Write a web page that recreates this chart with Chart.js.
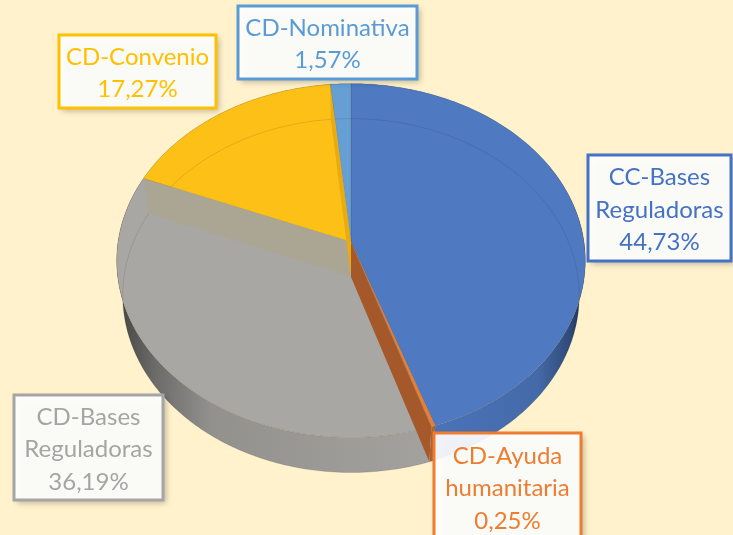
<!DOCTYPE html>
<html>
<head>
<meta charset="utf-8">
<script src="https://cdn.jsdelivr.net/npm/chart.js@4"></script>
<style>
  html, body { margin: 0; padding: 0; background: #fff2cc; overflow: hidden; }
  canvas { display: block; }
</style>
</head>
<body>
<canvas id="chartPie" width="733" height="535"></canvas>
<script>
// Chart data
const categories = ['CC-Bases Reguladoras', 'CD-Ayuda humanitaria', 'CD-Bases Reguladoras', 'CD-Convenio', 'CD-Nominativa'];
const shares = [44.73, 0.25, 36.19, 17.27, 1.57];

// Slice styles
const topColors = ['#4f79c1', '#ed7d31', '#a8a7a3', '#fdc016', '#659fd3'];
const textColors = ['#4472c4', '#ed7d31', '#a5a5a5', '#ffc000', '#5b9bd5'];
const sideStops = [
  [[0.7, '#4a72b8'], [0.9, '#446aa8'], [0.97, '#2f4a78'], [1, '#1c2c4c']],
  [[0, '#b5602a'], [1, '#b5602a']],
  [[0, '#444443'], [0.08, '#6b6b69'], [0.2, '#92918e'], [0.68, '#a3a29e']],
  [[0, '#c99a14'], [1, '#c99a14']],
  [[0, '#507fa9'], [1, '#507fa9']]
];

// Label boxes: left, top, right, bottom
const labelBoxes = [
  [588, 155, 731, 261],
  [434, 433, 581, 545],
  [14, 395, 163, 500],
  [59, 35, 216, 108],
  [238, 6, 417, 79]
];

// Perspective of the tilted disc
const TILT = 0.105;
const DISC_HEIGHT = 175;
const FLOOR_RADIUS = 227;
const FLOOR_DROP = 35;

function project(arc, angle, radius, drop) {
  const u = Math.cos(angle);
  const v = Math.sin(angle);
  const d = 1 - TILT * v;
  return {
    x: arc.x + radius * u / d,
    y: arc.y + drop + DISC_HEIGHT * v / d
  };
}

function traceRim(ctx, arc, from, to, radius, drop, first) {
  const steps = Math.max(2, Math.ceil(Math.abs(to - from) * 60));
  for (let i = 0; i <= steps; i++) {
    const p = project(arc, from + (to - from) * i / steps, radius, drop);
    if (i === 0 && first) ctx.moveTo(p.x, p.y);
    else ctx.lineTo(p.x, p.y);
  }
}

function drawSide(ctx, arc, stops) {
  const grad = ctx.createLinearGradient(arc.x - arc.outerRadius, 0, arc.x + arc.outerRadius, 0);
  stops.forEach(([at, color]) => grad.addColorStop(at, color));
  ctx.beginPath();
  traceRim(ctx, arc, arc.startAngle, arc.endAngle, arc.outerRadius, 0, true);
  traceRim(ctx, arc, arc.endAngle, arc.startAngle, FLOOR_RADIUS, FLOOR_DROP, false);
  ctx.closePath();
  ctx.fillStyle = grad;
  ctx.fill();
}

function drawTop(ctx, arc, color) {
  ctx.beginPath();
  ctx.moveTo(arc.x, arc.y);
  traceRim(ctx, arc, arc.startAngle, arc.endAngle, arc.outerRadius, 0, false);
  ctx.closePath();
  ctx.fillStyle = color;
  ctx.fill();
  ctx.strokeStyle = 'rgba(90,80,50,0.28)';
  ctx.lineWidth = 0.7;
  ctx.stroke();
}

// Cut face of a slice, running from the centre to the rim and down to the floor
function drawWall(ctx, arc, angle, color) {
  const a = project(arc, angle, arc.outerRadius, 0);
  const b = project(arc, angle, FLOOR_RADIUS, FLOOR_DROP);
  ctx.beginPath();
  ctx.moveTo(arc.x, arc.y);
  ctx.lineTo(a.x, a.y);
  ctx.lineTo(b.x, b.y);
  ctx.lineTo(arc.x, arc.y + FLOOR_DROP);
  ctx.closePath();
  ctx.fillStyle = color;
  ctx.fill();
}

const discPlugin = {
  id: 'disc',
  beforeDatasetDraw(chart) {
    const ctx = chart.ctx;
    const arcs = chart.getDatasetMeta(0).data;
    ctx.save();

    arcs.forEach((arc, i) => drawSide(ctx, arc, sideStops[i]));
    arcs.forEach((arc, i) => drawTop(ctx, arc, arc.options.backgroundColor));

    // floor of the disc, seen through the top
    ctx.beginPath();
    traceRim(ctx, arcs[0], -Math.PI, Math.PI, FLOOR_RADIUS, FLOOR_DROP, true);
    ctx.strokeStyle = 'rgba(40,40,40,0.13)';
    ctx.lineWidth = 1;
    ctx.stroke();

    // cut faces seen through the top
    drawWall(ctx, arcs[3], arcs[3].startAngle, '#aba594');
    drawWall(ctx, arcs[3], arcs[3].endAngle, '#e9ac10');
    drawWall(ctx, arcs[1], arcs[1].endAngle, '#a5592b');

    ctx.restore();
    return false;
  },
  afterDatasetsDraw(chart) {
    const ctx = chart.ctx;
    categories.forEach((name, i) => {
      const [l, t, r, b] = labelBoxes[i];
      ctx.save();
      ctx.shadowColor = 'rgba(0,0,0,0.28)';
      ctx.shadowBlur = 6;
      ctx.shadowOffsetX = 3;
      ctx.shadowOffsetY = 3;
      ctx.fillStyle = 'rgba(255,255,255,0.92)';
      ctx.fillRect(l, t, r - l, b - t);
      ctx.shadowColor = 'transparent';
      ctx.strokeStyle = textColors[i];
      ctx.lineWidth = 3;
      ctx.strokeRect(l, t, r - l, b - t);

      const lines = name.split(' ').concat(shares[i].toFixed(2).replace('.', ',') + '%');
      ctx.fillStyle = textColors[i];
      ctx.font = '24px Lato';
      ctx.textAlign = 'center';
      ctx.textBaseline = 'middle';
      const lineHeight = 32.5;
      const midY = (t + Math.min(b, t + 107)) / 2 + 2;
      lines.forEach((line, n) => {
        ctx.fillText(line, (l + r) / 2, midY + (n - (lines.length - 1) / 2) * lineHeight);
      });
      ctx.restore();
    });
  }
};

new Chart(document.getElementById('chartPie'), {
  type: 'pie',
  data: {
    labels: categories,
    datasets: [{
      data: shares,
      backgroundColor: topColors,
      borderWidth: 0
    }]
  },
  options: {
    responsive: false,
    animation: false,
    layout: { padding: { left: 118, right: 149, top: 9, bottom: 60 } },
    plugins: { legend: { display: false }, tooltip: { enabled: false } }
  },
  plugins: [discPlugin]
});
</script>
</body>
</html>
